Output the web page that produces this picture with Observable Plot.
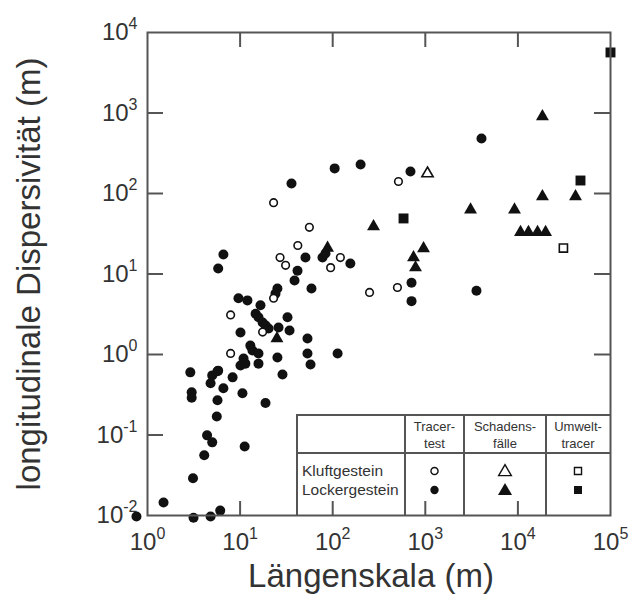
<!DOCTYPE html>
<html><head><meta charset="utf-8">
<script src="https://cdn.jsdelivr.net/npm/d3@7"></script>
<script src="https://cdn.jsdelivr.net/npm/@observablehq/plot@0.6"></script>
<style>
body{margin:0;background:#fff;}
#wrap{position:relative;width:634px;height:596px;font-family:"Liberation Sans",Arial,sans-serif;color:#333;}
.ln{position:absolute;background:#555;}
.lt{position:absolute;white-space:nowrap;line-height:1;}
</style></head><body><div id="wrap"></div>
<script>
// ---- data ----
const xTicks = [1, 10, 100, 1000, 10000, 100000];
const yTicks = [0.01, 0.1, 1, 10, 100, 1000, 10000];
const xInnerTicks = [10, 100, 1000, 10000];
const yInnerTicksLeft = [0.1, 1, 10, 100, 1000];
const yInnerTicksRight = [1, 10, 100, 1000];

// Kluftgestein – Tracertest (open circles)
const kluftTracerX = [23, 56, 42, 27, 31, 121, 95, 250, 23, 7.9, 17.5, 7.9, 500, 513];
const kluftTracerY = [77, 38, 22.6, 16, 12.8, 16, 12, 5.9, 5.0, 3.1, 1.9, 1.03, 6.8, 141];
// Kluftgestein – Schadensfälle (open triangles)
const kluftSchadenX = [1056];
const kluftSchadenY = [177];
// Kluftgestein – Umwelttracer (open squares)
const kluftUmweltX = [31000];
const kluftUmweltY = [21];
// Lockergestein – Tracertest (filled circles)
const lockerTracerX = [35.9, 105, 200, 692, 4045, 710, 710, 3570, 6.6, 5.8, 50.8, 77.6, 83.6, 155, 41.7, 38.7, 59, 25.3, 24.1,
  9.6, 12, 16.6, 14.7, 15.8, 17.5, 18.8, 20.3, 32.5, 26, 34.2, 10.1, 53.4, 12.9, 13.6, 10.9, 15.8, 25.3, 53.4, 10.1, 11.4,
  5.8, 57.6, 113, 28.7, 2.9, 5.0, 5.7, 4.8, 6.6, 8.3, 3.0, 3.0, 5.7, 10.6, 18.8, 5.6, 4.4, 5.0, 11.2, 4.1, 3.1, 1.49,
  0.76, 3.14, 4.8, 6.1, 15.8];
const lockerTracerY = [133, 205, 229, 188, 482, 7.8, 4.6, 6.2, 17.5, 11.7, 16, 16, 18, 13.5, 11, 8.3, 6.6, 6.6, 5.7,
  5.0, 4.7, 4.1, 3.2, 2.9, 2.5, 2.3, 2.1, 2.9, 2.16, 1.99, 1.88, 1.58, 1.29, 1.12, 0.89, 1.03, 0.92, 1.03, 0.73, 0.77,
  0.63, 0.75, 1.03, 0.565, 0.60, 0.55, 0.62, 0.44, 0.38, 0.52, 0.34, 0.29, 0.27, 0.33, 0.25, 0.17, 0.099, 0.081, 0.072, 0.056, 0.029, 0.0145,
  0.0097, 0.0094, 0.0097, 0.0115, 0.77];
// Lockergestein – Schadensfälle (filled triangles)
const lockerSchadenX = [18400, 3080, 9190, 18400, 41900, 276, 10670, 13000, 16300, 19900, 957, 746, 784, 88, 25];
const lockerSchadenY = [905, 63, 63, 92, 92, 39, 33, 33, 33, 33, 20.7, 16, 12, 21, 1.58];
// Lockergestein – Umwelttracer (filled squares)
const lockerUmweltX = [100000, 47400, 582];
const lockerUmweltY = [5650, 145, 49];

const xLabel = "Längenskala (m)";
const yLabel = "longitudinale Dispersivität (m)";
const legendCols = [["Tracer-", "test"], ["Schadens-", "fälle"], ["Umwelt-", "tracer"]];
const legendRows = ["Kluftgestein", "Lockergestein"];

// ---- chart ----
const W = 634, H = 596, mL = 147, mR = 24, mT = 32, mB = 81;
const pw = W - mL - mR, ph = H - mT - mB;
const ink = "#111", axisInk = "#555";
const pts = (xs, ys) => xs.map((x, i) => ({x, y: ys[i]}));
const fmt = d => "10^" + Math.round(Math.log10(d));

const plot = Plot.plot({
  width: W, height: H,
  marginLeft: mL, marginRight: mR, marginTop: mT, marginBottom: mB,
  x: {type: "log", domain: [1, 1e5]},
  y: {type: "log", domain: [0.01, 1e4]},
  style: {fontFamily: "'Liberation Sans', Arial, sans-serif", background: "#fff", color: "#333", overflow: "visible"},
  marks: [
    Plot.ruleX(xInnerTicks, {x: d => d, insetTop: ph - 14, stroke: axisInk, strokeWidth: 2}),
    Plot.ruleX(xInnerTicks, {x: d => d, insetBottom: ph - 15, stroke: axisInk, strokeWidth: 2}),
    Plot.ruleY(yInnerTicksLeft, {y: d => d, insetRight: pw - 16, stroke: axisInk, strokeWidth: 2}),
    Plot.ruleY(yInnerTicksRight, {y: d => d, insetLeft: pw - 16, stroke: axisInk, strokeWidth: 2}),
    Plot.dot(pts(lockerTracerX, lockerTracerY), {x: "x", y: "y", r: 5, fill: ink, stroke: "none"}),
    Plot.dot(pts(lockerSchadenX, lockerSchadenY), {x: "x", y: "y", symbol: "triangle", r: 4.8, fill: ink, stroke: "none"}),
    Plot.dot(pts(lockerUmweltX, lockerUmweltY), {x: "x", y: "y", symbol: "square", r: 5.6, fill: ink, stroke: "none"}),
    Plot.dot(pts(kluftTracerX, kluftTracerY), {x: "x", y: "y", r: 3.8, fill: "#fff", stroke: ink, strokeWidth: 1.6}),
    Plot.dot(pts(kluftSchadenX, kluftSchadenY), {x: "x", y: "y", symbol: "triangle", r: 4.2, fill: "#fff", stroke: ink, strokeWidth: 1.6}),
    Plot.dot(pts(kluftUmweltX, kluftUmweltY), {x: "x", y: "y", symbol: "square", r: 4.6, fill: "#fff", stroke: ink, strokeWidth: 1.6}),
    Plot.frame({stroke: axisInk, strokeWidth: 2}),
    Plot.axisX(xTicks, {tickSize: 0, tickPadding: 17, fontSize: 24, tickFormat: fmt, label: null, fill: "#333"}),
    Plot.axisY(yTicks, {tickSize: 0, tickPadding: 10, fontSize: 24, tickFormat: fmt, label: null, fill: "#333"}),
    Plot.text([xLabel], {text: d => d, frameAnchor: "bottom", textAnchor: "middle", lineAnchor: "middle", dy: 61, dx: -8, fontSize: 33, fill: "#333"}),
    Plot.text([yLabel], {text: d => d, frameAnchor: "left", textAnchor: "middle", lineAnchor: "middle", rotate: -90, dx: -118, fontSize: 33, fill: "#333"})
  ]
});

// superscript exponents
const NS = "http://www.w3.org/2000/svg";
plot.querySelectorAll("text").forEach(t => {
  const m = /^10\^(-?\d+)$/.exec(t.textContent);
  if (m) {
    t.textContent = "10";
    const ts = document.createElementNS(NS, "tspan");
    ts.setAttribute("dy", "-11");
    ts.setAttribute("font-size", "16");
    ts.textContent = m[1];
    t.appendChild(ts);
  }
});

const wrap = document.getElementById("wrap");
wrap.appendChild(plot);

// ---- legend table ----
const L = 297, T = 415, R = 610, B = 515, HR = 453;
const colX = [405, 464, 546, R];
function line(x, y, w, h) {
  const d = document.createElement("div");
  d.className = "ln";
  Object.assign(d.style, {left: x + "px", top: y + "px", width: w + "px", height: h + "px"});
  wrap.appendChild(d);
}
function label(txt, x, y, size, anchor) {
  const d = document.createElement("div");
  d.className = "lt";
  d.textContent = txt;
  Object.assign(d.style, {left: x + "px", top: y + "px", fontSize: size + "px",
    transform: anchor === "middle" ? "translate(-50%,-50%)" : "translate(0,-50%)"});
  wrap.appendChild(d);
}
line(L - 1, T - 1, R - L + 1, 2);
line(L - 1, T - 1, 2, B - T + 1);
line(L, HR - 0.75, R - L, 1.5);
colX.slice(0, 3).forEach(x => line(x - 0.75, T, 1.5, B - T));
const centers = [];
for (let i = 0; i < 3; i++) centers.push((colX[i] + colX[i + 1]) / 2);
legendCols.forEach((c, i) => {
  label(c[0], centers[i], 426, 13, "middle");
  label(c[1], centers[i], 443, 13, "middle");
});
const rowY = [471, 490];
legendRows.forEach((r, i) => label(r, 302, rowY[i], 15.5, "start"));
const symbols = [d3.symbolCircle, d3.symbolTriangle, d3.symbolSquare];
const sizes = [[40, 55], [70, 85], [50, 64]];
const sv = d3.select(wrap).append("svg")
  .attr("width", W).attr("height", H)
  .style("position", "absolute").style("left", 0).style("top", 0).style("pointer-events", "none");
centers.forEach((cx, i) => {
  rowY.forEach((cy, j) => {
    sv.append("path")
      .attr("d", d3.symbol(symbols[i], sizes[i][j])())
      .attr("transform", `translate(${cx},${cy + (i === 1 ? 1 : 0)})`)
      .attr("fill", j === 0 ? "#fff" : ink)
      .attr("stroke", j === 0 ? ink : "none")
      .attr("stroke-width", 1.4);
  });
});
</script></body></html>
